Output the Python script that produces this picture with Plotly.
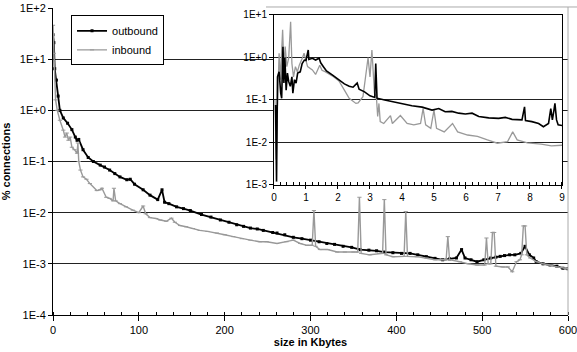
import plotly.graph_objects as go

# ---------------- main chart data (size in Kbytes, % connections) ----------------
out_x = [0, 1, 2, 4, 6, 8, 12, 17, 22, 26, 28, 30, 35, 41, 47, 55, 60, 66, 72, 78, 86, 90, 95,
         105, 113, 122, 127, 130, 135, 144, 152, 160, 173, 184, 195, 205, 214, 222, 230, 238, 245,
         256, 261, 270, 280, 290, 300, 310, 319, 328, 338, 348, 358, 368, 377, 386, 396, 406, 416,
         425, 435, 445, 454, 462, 470, 476, 480, 487, 494, 502, 510, 516, 521, 526, 532, 538, 545,
         550, 555, 560, 563, 571, 579, 587, 594, 600]
out_y = [30, 21, 6.5, 3.9, 1.9, 1.0, 0.71, 0.56, 0.42, 0.30, 0.26, 0.27, 0.17, 0.12, 0.10, 0.085,
         0.078, 0.068, 0.058, 0.050, 0.044, 0.045, 0.036, 0.028, 0.022, 0.018, 0.028, 0.016, 0.015,
         0.013, 0.012, 0.011, 0.0092, 0.0082, 0.0072, 0.0065, 0.0058, 0.0054, 0.0050, 0.0048, 0.0045,
         0.0041, 0.0040, 0.0037, 0.0033, 0.0031, 0.0029, 0.0027, 0.0025, 0.0024, 0.0022, 0.0021,
         0.0019, 0.00185, 0.0018, 0.0017, 0.00165, 0.0016, 0.0016, 0.0015, 0.00138, 0.00128, 0.0012,
         0.00125, 0.0013, 0.0019, 0.0013, 0.0012, 0.0011, 0.0012, 0.0013, 0.00135, 0.0014, 0.00145,
         0.0015, 0.0015, 0.0016, 0.0022, 0.0015, 0.0013, 0.0011, 0.001, 0.00095, 0.0009, 0.00082, 0.0008]

in_x = [0, 1, 3, 5, 8, 12, 14, 16, 18, 20, 22, 25, 28, 29, 30, 32, 35, 39, 43, 51, 55, 57, 62, 66,
        70, 71, 73, 78, 85, 93, 100, 105, 108, 113, 120, 125, 132, 138, 142, 148, 155, 163, 171,
        180, 191, 200, 210, 220, 230, 241, 249, 261, 272, 280, 288, 296, 302, 304, 306, 311, 320,
        331, 340, 350, 355, 357, 359, 369, 380, 384, 386, 388, 396, 405, 409, 411, 413, 424, 435,
        445, 454, 458, 460, 462, 474, 484, 494, 503, 505, 507, 510, 512, 514, 516, 524, 530, 535,
        540, 544, 546, 548, 550, 552, 556, 563, 571, 579, 587, 597, 600]
in_y = [46, 13, 1.6, 1.0, 0.64, 0.41, 0.30, 0.36, 0.26, 0.30, 0.19, 0.17, 0.145, 0.23, 0.10,
        0.068, 0.050, 0.045, 0.037, 0.027, 0.028, 0.030, 0.020, 0.019, 0.017, 0.030, 0.017, 0.015,
        0.013, 0.0112, 0.010, 0.0135, 0.0095, 0.0080, 0.0077, 0.0072, 0.0068, 0.0078, 0.0065,
        0.0056, 0.0053, 0.0049, 0.0045, 0.0043, 0.0040, 0.0037, 0.0034, 0.0031, 0.0029, 0.0027,
        0.0027, 0.0025, 0.0027, 0.0029, 0.0025, 0.0023, 0.0023, 0.011, 0.0022, 0.0019, 0.0019,
        0.0017, 0.0017, 0.0017, 0.0017, 0.020, 0.0016, 0.0015, 0.0016, 0.0016, 0.018, 0.0015,
        0.00138, 0.0014, 0.0014, 0.0105, 0.0014, 0.00138, 0.0013, 0.0012, 0.0012, 0.0012, 0.0034,
        0.0012, 0.0011, 0.0010, 0.00095, 0.00095, 0.0032, 0.0010, 0.0010, 0.0041, 0.0041, 0.0009,
        0.00087, 0.00087, 0.0007, 0.0011, 0.0012, 0.0015, 0.0055, 0.0055, 0.0015, 0.0013, 0.0011,
        0.0010, 0.00095, 0.00087, 0.00082, 0.0008]

# ---------------- inset data (0-9 Kbytes) ----------------
ins_out_x = [0.05, 0.08, 0.11, 0.16, 0.21, 0.24, 0.28, 0.31, 0.34, 0.38, 0.42, 0.46, 0.51, 0.56,
             0.59, 0.64, 0.69, 0.74, 0.82, 0.88, 0.95, 1.0, 1.07, 1.09, 1.2, 1.3, 1.41, 1.46, 1.55,
             1.64, 1.82, 1.9, 2.03, 2.2, 2.35, 2.47, 2.55, 2.6, 2.66, 2.83, 3.0, 3.15, 3.18, 3.22,
             3.46, 3.69, 3.98, 4.31, 4.63, 4.94, 5.15, 5.35, 5.56, 5.77, 5.98, 6.19, 6.4, 6.71,
             7.02, 7.23, 7.44, 7.75, 7.83, 7.86, 8.06, 8.27, 8.42, 8.58, 8.65, 8.70, 8.75, 8.78,
             8.83, 8.88, 9.0]
ins_out_y = [0.076, 0.0012, 0.35, 0.46, 0.145, 0.11, 1.8, 0.25, 1.0, 0.17, 0.43, 0.27, 0.21, 0.35,
             0.145, 0.30, 0.25, 0.43, 0.46, 0.72, 0.87, 0.85, 1.5, 0.9, 0.96, 0.87, 0.96, 0.75, 0.6,
             0.48, 0.39, 0.35, 0.29, 0.24, 0.21, 0.20, 0.23, 0.25, 0.18, 0.155, 0.125, 0.115, 0.72,
             0.11, 0.10, 0.092, 0.08, 0.073, 0.068, 0.058, 0.063, 0.053, 0.054, 0.049, 0.047, 0.049,
             0.041, 0.038, 0.037, 0.039, 0.035, 0.034, 0.069, 0.033, 0.031, 0.028, 0.0235, 0.028,
             0.063, 0.034, 0.058, 0.083, 0.034, 0.026, 0.025]

ins_in_x = [0.03, 0.07, 0.11, 0.16, 0.2, 0.27, 0.31, 0.35, 0.4, 0.46, 0.52, 0.56, 0.61, 0.67,
            0.73, 0.79, 0.89, 0.94, 1.05, 1.2, 1.3, 1.43, 1.5, 1.61, 1.82, 2.03, 2.2, 2.35, 2.42,
            2.56, 2.63, 2.78, 2.85, 2.94, 3.0, 3.06, 3.14, 3.2, 3.24, 3.28, 3.32, 3.43, 3.64, 3.7,
            3.95, 4.16, 4.37, 4.58, 4.66, 4.74, 4.9, 5.0, 5.08, 5.32, 5.58, 5.74, 6.05, 6.36, 6.67,
            6.98, 7.3, 7.46, 7.6, 7.92, 8.35, 8.67, 9.0]
ins_in_y = [0.1, 0.004, 0.069, 1.26, 0.30, 4.5, 0.61, 1.8, 0.61, 0.98, 6.9, 0.72, 0.35, 0.61,
            0.46, 0.66, 0.98, 1.26, 0.61, 0.51, 0.40, 0.66, 0.5, 0.46, 0.37, 0.28, 0.17, 0.11, 0.10,
            0.083, 0.085, 0.12, 0.30, 1.0, 0.35, 1.5, 0.145, 0.12, 0.041, 0.083, 0.031, 0.028,
            0.043, 0.028, 0.043, 0.028, 0.026, 0.028, 0.063, 0.026, 0.0215, 0.058, 0.0215, 0.0178,
            0.028, 0.0178, 0.015, 0.014, 0.0115, 0.0096, 0.0105, 0.0178, 0.0115, 0.0098, 0.0092,
            0.0083, 0.0086]

main_tickvals = [1e2, 1e1, 1e0, 1e-1, 1e-2, 1e-3, 1e-4]
main_ticktext = ["1E+2", "1E+1", "1E+0", "1E-1", "1E-2", "1E-3", "1E-4"]
ins_tickvals = [1e1, 1e0, 1e-1, 1e-2, 1e-3]
ins_ticktext = ["1E+1", "1E+0", "1E-1", "1E-2", "1E-3"]
main_xticks = [0, 100, 200, 300, 400, 500, 600]
ins_xticks = [0, 1, 2, 3, 4, 5, 6, 7, 8, 9]

BLACK = "#000000"
GRAY = "#999999"
FONT = "Liberation Sans, Arial, sans-serif"

fig = go.Figure()
fig.add_trace(go.Scatter(x=out_x, y=out_y, name="outbound", mode="lines+markers",
                         line=dict(color=BLACK, width=1.8), marker=dict(symbol="square", size=3, color=BLACK),
                         xaxis="x", yaxis="y"))
fig.add_trace(go.Scatter(x=in_x, y=in_y, name="inbound", mode="lines+markers",
                         line=dict(color=GRAY, width=1.4), marker=dict(symbol="line-ew", size=3,
                                                                      line=dict(color=GRAY, width=1)),
                         xaxis="x", yaxis="y"))
fig.add_trace(go.Scatter(x=ins_in_x, y=ins_in_y, showlegend=False, mode="lines",
                         line=dict(color=GRAY, width=1.3), xaxis="x2", yaxis="y2"))
fig.add_trace(go.Scatter(x=ins_out_x, y=ins_out_y, showlegend=False, mode="lines",
                         line=dict(color=BLACK, width=1.6), xaxis="x2", yaxis="y2"))

axis_font = dict(family=FONT, size=11, color="#000")
fig.update_layout(
    width=577, height=352,
    margin=dict(l=53, r=9, t=8, b=37, autoexpand=False),
    paper_bgcolor="white", plot_bgcolor="white",
    font=dict(family=FONT, size=11, color="#000"),
    showlegend=True,
    legend=dict(x=0.035, y=0.976, xanchor="left", yanchor="top", bgcolor="white",
                bordercolor="#000", borderwidth=1,
                font=dict(family=FONT, size=11, color="#000"), itemwidth=30,
                tracegroupgap=0),
    xaxis=dict(domain=[0, 1], range=[0, 600], tickvals=main_xticks, showgrid=False, zeroline=False,
               automargin=False, ticklabeloverflow="allow",
               showline=True, linecolor="#000", linewidth=1, ticks="outside", ticklen=5,
               tickcolor="#000", tickfont=axis_font,
               minor=dict(dtick=20, ticks="inside", ticklen=3, tickcolor="#000", showgrid=False),
               title=dict(text="size in Kbytes", font=dict(family=FONT, size=11, weight="bold", color="#000"),
                          standoff=0)),
    yaxis=dict(domain=[0, 1], type="log", range=[-4, 2], tickvals=main_tickvals, ticktext=main_ticktext,
               automargin=False, ticklabeloverflow="allow",
               showgrid=True, gridcolor="#222", gridwidth=1, zeroline=False,
               showline=True, linecolor="#000", linewidth=1, ticks="outside", ticklen=4,
               tickcolor="#000", tickfont=axis_font,
               title=dict(text="% connections", font=dict(family=FONT, size=11, weight="bold", color="#000"),
                          standoff=6)),
    xaxis2=dict(domain=[0.4291, 0.9883], range=[0, 9], anchor="y2", tickvals=ins_xticks,
                automargin=False, ticklabeloverflow="allow",
                showgrid=False, zeroline=False, showline=True, mirror=True, linecolor="#000",
                linewidth=1, ticks="outside", ticklen=3, tickcolor="#000",
                tickfont=dict(family=FONT, size=10, color="#000"),
                minor=dict(dtick=0.2, ticks="inside", ticklen=3, tickcolor="#000", showgrid=False)),
    yaxis2=dict(domain=[0.4235, 0.9772], type="log", range=[-3, 1], anchor="x2",
                automargin=False, ticklabeloverflow="allow",
                tickvals=ins_tickvals, ticktext=ins_ticktext, showgrid=True, gridcolor="#222",
                gridwidth=1, zeroline=False, showline=True, mirror=True, linecolor="#000",
                linewidth=1, ticks="outside", ticklen=4, tickcolor="#000",
                tickfont=dict(family=FONT, size=10, color="#000")),
    shapes=[
        dict(type="line", xref="paper", yref="paper", x0=1.0, x1=1.0, y0=0, y1=1.0033,
             line=dict(color="#aaaaaa", width=1)),
        dict(type="line", xref="paper", yref="paper", x0=0.4136, x1=1.0175, y0=1.0033, y1=1.0033,
             line=dict(color="#aaaaaa", width=1)),
    ],
)

fig.write_html("out.html", config={"displayModeBar": False},
               post_script="document.body.style.margin='0';")
